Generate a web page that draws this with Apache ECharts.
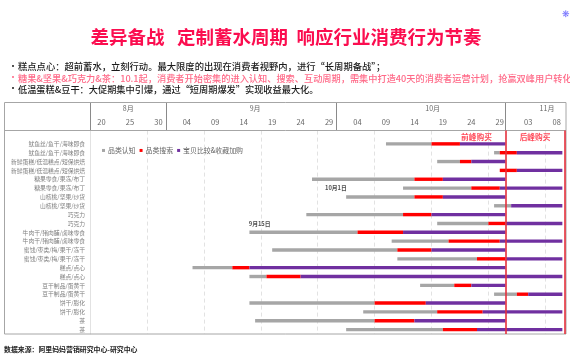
<!DOCTYPE html>
<html>
<head>
<meta charset="utf-8">
<script src="https://cdn.jsdelivr.net/npm/echarts@6/dist/echarts.min.js"></script>
<style>
html,body{margin:0;padding:0;background:#fff}
#main{width:570px;height:360px}
</style>
</head>
<body>
<div id="main"></div>
<script>
// x 轴数值 = 距 7月31日 的天数（20 = 8月20日，35 = 9月4日 ...）
var rows = ['', '鱿鱼丝/鱼干/海味即食','鱿鱼丝/鱼干/海味即食','新鲜蛋糕/低温糕点/短保烘焙','新鲜蛋糕/低温糕点/短保烘焙',
  '糖果零食/果冻/布丁','糖果零食/果冻/布丁','山核桃/坚果/炒货','山核桃/坚果/炒货','巧克力','巧克力',
  '牛肉干/猪肉脯/卤味零食','牛肉干/猪肉脯/卤味零食','蜜饯/枣类/梅/果干/冻干','蜜饯/枣类/梅/果干/冻干',
  '糕点/点心','糕点/点心','豆干制品/蛋黄干','豆干制品/蛋黄干','饼干/膨化','饼干/膨化','茶','茶'];
var greyStart   = [null,70,89,79,90,57,73,63,89,56,79,46,71,50,72,36,46,76,89,46,66,47,63];
var redStart    = [null,78,90,83,90,75,85,75,92,73,88,65,81,72,86,43,49,82,93,68,79,68,80];
var purpleStart = [null,83,93,85,93,80,90,80,92,78,91,73,90,78,91,46,55,85,95,77,87,75,86];
var barEnd      = [null,91,101,91,101,91,101,91,101,91,101,91,101,91,101,91,101,91,101,91,101,91,101];

var dateTicks = [20,25,30,35,40,45,50,55,60,65,70,75,80,85,90,95,100];
var dateLabels = ['20','25','30','04','09','14','19','24','29','04','09','14','19','24','29','03','08'];
var gridDays = [28,38,48,58,68,78,88,98];
var monthEdges = [18.1,31.4,61.3,91];
var monthCenters = [24.7,47,78.2,98.3];
var monthNames = ['8月','9月','10月','11月'];
var peakLines = [91.1,101.35];

function diff(a,b){
  return a.map(function(v,i){ return v==null ? null : b[i]-v; });
}

var font = '"Noto Sans CJK SC","Noto Sans",sans-serif';
var chart = echarts.init(document.getElementById('main'),null,{renderer:'canvas'});

function noteText(text,top,color,size){
  return {text:text,left:18,top:top,padding:0,textStyle:{fontFamily:font,fontSize:size,fontWeight:500,color:color,lineHeight:10}};
}

var barCommon = {type:'bar',stack:'plan',barWidth:3.4,xAxisIndex:0,yAxisIndex:0};

var option = {
  animation:false,
  backgroundColor:'#fff',
  textStyle:{fontFamily:font},
  title:[
    {text:'差异备战   定制蓄水周期  响应行业消费行为节奏',left:90.5,top:25.5,padding:0,
      textStyle:{fontFamily:font,fontSize:18.5,fontWeight:'bold',color:'#fb0d4f',lineHeight:22}},
    noteText('糕点点心：超前蓄水，立刻行动。最大限度的出现在消费者视野内，进行“长周期备战”；',61.7,'#1a1a1a',9.3),
    noteText('糖果&坚果&巧克力&茶：10.1起，消费者开始密集的进入认知、搜索、互动周期，需集中打造40天的消费者运营计划，抢赢双峰用户转化',73.3,'#ff6a88',9.2),
    noteText('低温蛋糕&豆干：大促期集中引爆，通过“短周期爆发”实现收益最大化。',84.3,'#1a1a1a',9.2),
    {text:'数据来源：阿里妈妈营销研究中心-研究中心',left:4,top:344,padding:0,
      textStyle:{fontFamily:font,fontSize:6.9,fontWeight:'bold',color:'#222',lineHeight:10}}
  ],
  legend:{
    left:102,top:147,padding:0,itemWidth:3,itemHeight:3,itemGap:4,icon:'rect',
    data:['品类认知','品类搜索','宝贝比较&收藏加购'],
    textStyle:{fontSize:6.9,color:'#666',padding:[0,0,0,-2]}
  },
  grid:[
    {left:90.1,right:4,top:130.6,height:203.4},
    {left:90.1,right:4,top:102,height:28}
  ],
  xAxis:[
    {gridIndex:0,type:'value',min:18,max:101.64,
      axisLine:{show:false},axisLabel:{show:false},
      axisTick:{show:false,customValues:gridDays},
      splitLine:{show:true,lineStyle:{color:'#e2e2e2',type:[4,3],width:1}}},
    {gridIndex:1,type:'value',position:'bottom',min:18,max:101.64,
      axisLine:{show:false},
      axisTick:{show:false,customValues:monthEdges},
      splitLine:{show:true,lineStyle:{color:'#8a8a8a',width:1}},
      axisLabel:{inside:true,margin:4,customValues:dateTicks,color:'#666',fontSize:7.5,
        showMinLabel:true,showMaxLabel:true,
        formatter:function(v){ return dateLabels[dateTicks.indexOf(v)]; }}},
    {gridIndex:1,type:'value',position:'top',min:18,max:101.64,
      axisLine:{show:false},axisTick:{show:false},splitLine:{show:false},
      axisLabel:{inside:true,margin:3,customValues:monthCenters,color:'#666',fontSize:7,
        formatter:function(v){ return monthNames[monthCenters.indexOf(v)]; }}}
  ],
  yAxis:[
    {gridIndex:0,type:'category',inverse:true,data:rows,
      axisLine:{show:true,lineStyle:{color:'#e2e2e2'}},axisTick:{show:false},
      axisLabel:{interval:0,margin:5,fontSize:5.8,color:'#808080'}},
    {gridIndex:1,type:'value',show:false}
  ],
  series:[
    Object.assign({},barCommon,{name:'start',data:greyStart,itemStyle:{color:'transparent'},silent:true,
      markLine:{symbol:'none',silent:true,label:{show:false},
        lineStyle:{color:'#e5303c',type:'solid',width:1.6},
        data:peakLines.map(function(v){ return {xAxis:v}; })}}),
    Object.assign({},barCommon,{name:'品类认知',data:diff(greyStart,redStart),itemStyle:{color:'#a6a6a6'}}),
    Object.assign({},barCommon,{name:'品类搜索',data:diff(redStart,purpleStart),itemStyle:{color:'#ff0000'}}),
    Object.assign({},barCommon,{name:'宝贝比较&收藏加购',data:diff(purpleStart,barEnd),itemStyle:{color:'#7030a0'}}),
    {type:'scatter',xAxisIndex:0,yAxisIndex:0,symbolSize:0,silent:true,
      label:{show:true,position:'bottom',distance:-2,color:'#ff1a2e',fontSize:7.7,fontWeight:'bold',formatter:function(p){ return p.data[2]; }},
      data:[[85.9,0,'前峰购买'],[96.2,0,'后峰购买']]},
    {type:'scatter',xAxisIndex:0,yAxisIndex:0,symbolSize:0,silent:true,
      label:{show:true,position:'inside',color:'#222',fontSize:5.8,fontWeight:'bold',formatter:function(p){ return p.data[2]; }},
      data:[[61.2,6,'10月1日'],[47.8,10,'9月15日']]}
  ],
  graphic:[
    {type:'rect',shape:{x:4.5,y:102.5,width:561.5,height:231.5},style:{fill:'none',stroke:'#a6a6a6',lineWidth:1},z:5},
    {type:'line',shape:{x1:4.5,y1:130.5,x2:566,y2:130.5},style:{stroke:'#a6a6a6',lineWidth:1},z:5},
    // 项目符号
    {type:'text',style:{x:8.5,y:61,text:'•',fill:'#1a1a1a',font:'9px '+font}},
    {type:'text',style:{x:8.5,y:72.5,text:'•',fill:'#ff6a88',font:'9px '+font}},
    {type:'text',style:{x:8.5,y:83.5,text:'•',fill:'#1a1a1a',font:'9px '+font}},
    {type:'text',style:{x:562,y:10,text:'❋',fill:'#6f6cff',font:'9px "DejaVu Sans"'}}
  ]
};
chart.setOption(option);
</script>
</body>
</html>
